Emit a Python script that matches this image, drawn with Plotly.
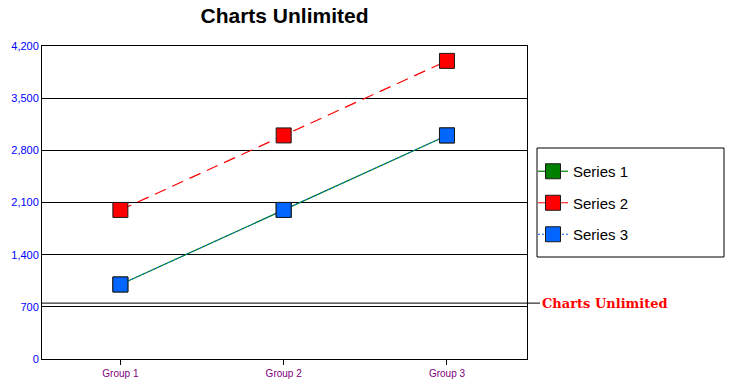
import plotly.graph_objects as go

categories = ["Group 1", "Group 2", "Group 3"]
series1 = [1000, 2000, 3000]
series2 = [2000, 3000, 4000]
series3 = [1000, 2000, 3000]
names = ["Series 1", "Series 2", "Series 3"]
colors = ["#008000", "#FF0000", "#0066FF"]
ref_value = 750
ref_label = "Charts Unlimited"
tick_vals = [0, 700, 1400, 2100, 2800, 3500, 4200]

L, R, T, B = 42, 202, 46, 29
W, H = 729, 388
pw = W - L - R
ph = H - T - B

fig = go.Figure()

marker_common = dict(symbol="square", size=15, line=dict(color="#1a1a1a", width=1))

fig.add_trace(go.Scatter(x=categories, y=series1, name=names[0], mode="lines+markers",
                         line=dict(color=colors[0], width=1.2),
                         marker=dict(color=colors[0], **marker_common)))
fig.add_trace(go.Scatter(x=categories, y=series2, name=names[1], mode="lines+markers",
                         line=dict(color=colors[1], width=1.2, dash="12px,7px"),
                         marker=dict(color=colors[1], **marker_common)))
fig.add_trace(go.Scatter(x=categories, y=series3, name=names[2], mode="lines+markers",
                         line=dict(color=colors[2], width=1, dash="2px,2px"),
                         marker=dict(color=colors[2], **marker_common)))

# reference line
x_end = (540 - L) / pw
fig.add_shape(type="line", xref="paper", yref="y", x0=0, x1=x_end, y0=ref_value, y1=ref_value,
              line=dict(color="black", width=1))
fig.add_annotation(xref="paper", yref="y", x=x_end, y=ref_value, text="<b>" + ref_label + "</b>",
                   showarrow=False, xanchor="left", yanchor="middle",
                   font=dict(family="DejaVu Serif, Liberation Serif", size=13, color="#FF0000"))

# legend frame
lx0 = (537 - L) / pw
lx1 = (724 - L) / pw
ly1 = (H - B - 148) / ph
ly0 = (H - B - 257) / ph
fig.add_shape(type="rect", xref="paper", yref="paper", x0=lx0, x1=lx1, y0=ly0, y1=ly1,
              line=dict(color="black", width=1), fillcolor="rgba(0,0,0,0)")

fig.update_layout(
    width=W, height=H,
    margin=dict(l=L, r=R, t=T, b=B, autoexpand=False),
    paper_bgcolor="white", plot_bgcolor="white",
    title=dict(text="<b>Charts Unlimited</b>", x=(L + pw / 2) / W, xanchor="center",
               y=1 - 16 / H, yanchor="middle",
               font=dict(family="Liberation Sans, Arial", size=21, color="black")),
    font=dict(family="Liberation Sans, Arial"),
    showlegend=True,
    legend=dict(x=(533 - L) / pw, y=(H - B - 155) / ph, xanchor="left", yanchor="top",
                bgcolor="rgba(0,0,0,0)", borderwidth=0, itemwidth=30,
                font=dict(family="Liberation Sans, Arial", size=15, color="black"),
                tracegroupgap=9),
    xaxis=dict(range=[-0.48, 2.49], showgrid=False, showline=True, linecolor="black", linewidth=1,
               mirror=True, ticks="outside", ticklen=5, tickcolor="black", automargin=False,
               tickfont=dict(size=10, color="#800080"), zeroline=False),
    yaxis=dict(range=[0, 4200], tickvals=tick_vals, tickformat=",", showgrid=True, automargin=False,
               gridcolor="black", gridwidth=1, showline=True, linecolor="black", linewidth=1,
               mirror=True, ticks="", tickfont=dict(size=11, color="#0000FF"), zeroline=False),
)
for i, tr in enumerate(fig.data):
    tr.legendgroup = "g%d" % i

fig.write_html("out.html")
